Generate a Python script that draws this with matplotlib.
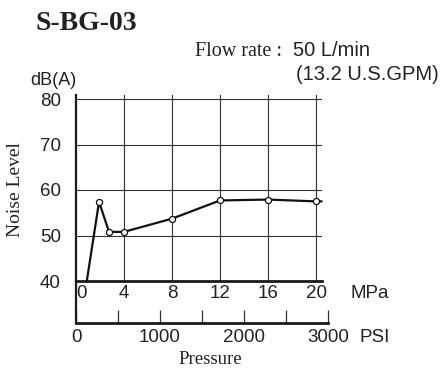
import matplotlib
matplotlib.use("Agg")
import matplotlib.pyplot as plt
import matplotlib.transforms as mtransforms

# ---- data ----
pressure_mpa = [0.9, 1.92, 2.75, 4, 8, 12, 16, 20, 20.45]
noise_db = [40.0, 57.4, 50.8, 50.8, 53.7, 57.7, 57.9, 57.5, 57.5]
marker_idx = [1, 2, 3, 4, 5, 6, 7]
mpa_ticks = [0, 4, 8, 12, 16, 20]
db_ticks = [40, 50, 60, 70, 80]
psi_major = [0, 1000, 2000, 3000]
psi_minor = [500, 1500, 2500]

W, H = 440, 369
SANS = ["Liberation Sans", "DejaVu Sans"]
SERIF = ["Liberation Serif", "DejaVu Serif"]

fig = plt.figure(figsize=(W / 100, H / 100), dpi=100)


def fx(px):
    return px / W


def fy(py):
    return 1 - py / H


# main axes: x 0..20.5 MPa mapped to px 76..322 ; y 40..80.9 mapped to px 281..95
ax = fig.add_axes([fx(76), fy(281), (322 - 76) / W, (281 - 95) / H])
ax.set_xlim(0, 20.5)
ax.set_ylim(40, 80 + 4 / 4.55)
for s in ["top", "right"]:
    ax.spines[s].set_visible(False)
ax.spines["left"].set_linewidth(1.6)
ax.spines["bottom"].set_linewidth(2.0)
ax.spines["left"].set_color("#1a1a1a")
ax.spines["bottom"].set_color("#1a1a1a")

for y in db_ticks[1:]:
    ax.axhline(y, color="#333333", lw=0.8, zorder=1)
for x in mpa_ticks[1:]:
    ax.axvline(x, color="#333333", lw=0.8, zorder=1)

ax.set_yticks(db_ticks)
ax.set_yticklabels([str(v) for v in db_ticks], family=SANS, fontsize=13.5, color="#222222")
ax.set_xticks(mpa_ticks)
ax.set_xticklabels([str(v) for v in mpa_ticks], family=SANS, fontsize=13.5, color="#222222")
ax.tick_params(axis="y", length=0, pad=11)
ax.tick_params(axis="x", length=0, pad=3)
# nudge the "0" label right
lbl0 = ax.get_xticklabels()[0]
lbl0.set_transform(lbl0.get_transform() + mtransforms.ScaledTranslation(5 / 100, 0, fig.dpi_scale_trans))

ax.plot(pressure_mpa, noise_db, color="#111111", lw=1.6, zorder=3,
        marker="o", markevery=marker_idx, markersize=4.4,
        markerfacecolor="white", markeredgecolor="#111111", markeredgewidth=0.9,
        clip_on=False)

# PSI secondary axis
ax2 = fig.add_axes([fx(76), fy(323), (328 - 76) / W, (323 - 281) / H])
ax2.set_xlim(0, 3000)
ax2.set_ylim(0, 1)
ax2.patch.set_alpha(0)
for s in ["top", "right"]:
    ax2.spines[s].set_visible(False)
ax2.spines["left"].set_linewidth(1.6)
ax2.spines["bottom"].set_linewidth(2.0)
ax2.spines["left"].set_color("#1a1a1a")
ax2.spines["bottom"].set_color("#1a1a1a")
ax2.set_yticks([])
ax2.set_xticks(psi_major)
ax2.set_xticks(psi_minor, minor=True)
ax2.set_xticklabels([str(v) for v in psi_major], family=SANS, fontsize=13.5, color="#222222")
ax2.tick_params(axis="x", which="both", direction="in", length=9.4, width=0.9,
                color="#333333", pad=4)

# texts
fig.text(fx(35), fy(23), "S-BG-03", family=SERIF, fontweight="bold", fontsize=20,
         ha="left", va="center", color="#222222")
fig.text(fx(195), fy(56), "Flow rate : ", family=SERIF, fontsize=14.5,
         ha="left", va="baseline", color="#222222")
fig.text(fx(293), fy(56), "50 L/min", family=SANS, fontsize=14.5,
         ha="left", va="baseline", color="#222222")
fig.text(fx(439), fy(80), "(13.2 U.S.GPM)", family=SANS, fontsize=14.5,
         ha="right", va="baseline", color="#222222")
fig.text(fx(30), fy(85), "dB(A)", family=SANS, fontsize=13,
         ha="left", va="baseline", color="#222222")
fig.text(fx(16), fy(190), "Noise Level", family=SERIF, fontsize=14,
         rotation=90, ha="center", va="center", color="#222222")
fig.text(fx(370), fy(293), "MPa", family=SANS, fontsize=13.5,
         ha="center", va="center", color="#222222")
fig.text(fx(359), fy(337), "PSI", family=SANS, fontsize=13.5,
         ha="left", va="center", color="#222222")
fig.text(fx(210), fy(360), "Pressure", family=SERIF, fontsize=13.5,
         ha="center", va="center", color="#222222")

fig.savefig("out.png", dpi=100)
